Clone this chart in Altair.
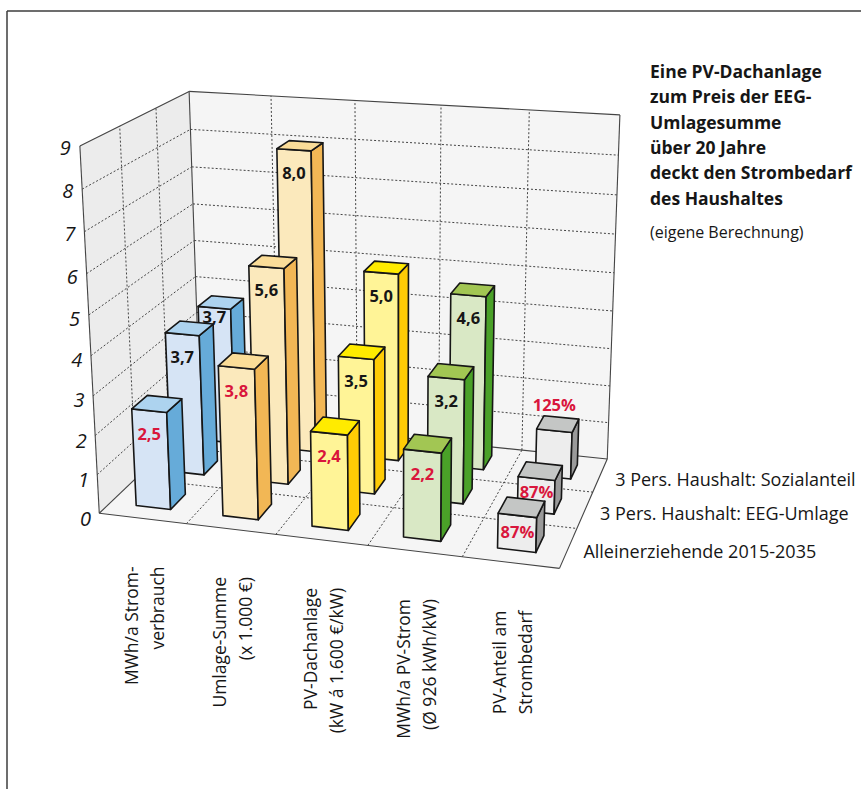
import altair as alt
import numpy as np
import pandas as pd

# ---- chart content ----
categories = [
    ["MWh/a Strom-", "verbrauch"],
    ["Umlage-Summe", "(x 1.000 €)"],
    ["PV-Dachanlage", "(kW á 1.600 €/kW)"],
    ["MWh/a PV-Strom", "(Ø 926 kWh/kW)"],
    ["PV-Anteil am", "Strombedarf"],
]
series_names = [
    "Alleinerziehende 2015-2035",
    "3 Pers. Haushalt: EEG-Umlage",
    "3 Pers. Haushalt: Sozialanteil",
]
alleinerziehende = [2.5, 3.8, 2.4, 2.2, 0.87]
eeg_umlage = [3.7, 5.6, 3.5, 3.2, 0.87]
sozialanteil = [3.7, 8.0, 5.0, 4.6, 1.25]
y_ticks = list(range(10))
title_lines = [
    "Eine PV-Dachanlage",
    "zum Preis der EEG-",
    "Umlagesumme",
    "über 20 Jahre",
    "deckt den Strombedarf",
    "des Haushaltes",
]
source_note = "(eigene Berechnung)"

# ---- styling ----
FONT = "Open Sans"
RED = "#d9163c"
INK = "#161616"
face_colors = [
    {"front": "#d6e4f5", "side": "#66abd9", "top": "#add3ef"},
    {"front": "#fbe9bc", "side": "#f2b755", "top": "#fbdd98"},
    {"front": "#fff497", "side": "#ffcb05", "top": "#ffeb00"},
    {"front": "#d9e8c5", "side": "#4aa128", "top": "#a2c653"},
    {"front": "#ededed", "side": "#9a9a9a", "top": "#c4c6c5"},
]

# ---- camera: 3D box (x: category, y: value, z: series) onto the page ----
camera_anchors = [
    ((0, 0, 0), (98.0, 512.0)),
    ((5, 0, 0), (560.0, 569.0)),
    ((5, 0, 3), (606.7, 458.3)),
    ((0, 0, 3), (201.5, 418.0)),
    ((0, 9, 0), (80.7, 146.7)),
    ((0, 9, 3), (188.3, 90.7)),
    ((5, 9, 3), (620.0, 115.0)),
]


def solve_camera(anchors):
    rows = []
    for (x, y, z), (u, v) in anchors:
        rows.append([x, y, z, 1, 0, 0, 0, 0, -u * x, -u * y, -u * z, -u])
        rows.append([0, 0, 0, 0, x, y, z, 1, -v * x, -v * y, -v * z, -v])
    return np.linalg.svd(np.array(rows, float))[2][-1].reshape(3, 4)


CAMERA = solve_camera(camera_anchors)


def project(x, y, z):
    u, v, w = CAMERA @ np.array([x, y, z, 1.0])
    return float(u / w), float(v / w)


def polygon(corners, fill):
    ring = [list(project(*c)) for c in corners]
    ring.append(ring[0])
    return {
        "type": "Feature",
        "geometry": {"type": "Polygon", "coordinates": [ring]},
        "properties": {"fill": fill},
    }


# ---- walls and floor ----
wall_faces = [
    polygon([(0, 0, 0), (0, 9, 0), (0, 9, 3), (0, 0, 3)], "#ececec"),
    polygon([(0, 0, 3), (0, 9, 3), (5, 9, 3), (5, 0, 3)], "#f5f5f5"),
    polygon([(0, 0, 0), (5, 0, 0), (5, 0, 3), (0, 0, 3)], "#f5f5f5"),
]


def segment(a, b):
    (x, y), (x2, y2) = project(*a), project(*b)
    return {"x": x, "y": y, "x2": x2, "y2": y2}


grid_rows = []
for v in y_ticks[1:-1]:
    grid_rows.append(segment((0, v, 0), (0, v, 3)))
    grid_rows.append(segment((0, v, 3), (5, v, 3)))
for c in range(1, 5):
    grid_rows.append(segment((c, 0, 3), (c, 9, 3)))
    grid_rows.append(segment((c, 0, 0), (c, 0, 3)))
for r in range(1, 3):
    grid_rows.append(segment((0, 0, r), (0, 9, r)))
    grid_rows.append(segment((0, 0, r), (5, 0, r)))

edge_rows = [
    segment((0, 0, 0), (5, 0, 0)),
    segment((5, 0, 0), (5, 0, 3)),
    segment((0, 0, 0), (0, 0, 3)),
    segment((0, 0, 3), (5, 0, 3)),
    segment((0, 0, 0), (0, 9, 0)),
    segment((0, 0, 3), (0, 9, 3)),
    segment((5, 0, 3), (5, 9, 3)),
    segment((0, 9, 0), (0, 9, 3)),
    segment((0, 9, 3), (5, 9, 3)),
]

# ---- bars, painted back to front ----
BAR_X = (0.30, 0.70)
BAR_Z = (0.30, 0.73)
LABEL_DROP = 24
# value labels that sit somewhere else than the usual spot below the bar's top edge
label_drop_overrides = {(2, 0): 10, (0, 4): 18, (1, 4): 14, (2, 4): -25}

series_values = [alleinerziehende, eeg_umlage, sozialanteil]
bar_faces = []
value_labels = []
for r in (2, 1, 0):
    for c, value in enumerate(series_values[r]):
        x0, x1 = c + BAR_X[0], c + BAR_X[1]
        z0, z1 = r + BAR_Z[0], r + BAR_Z[1]
        col = face_colors[c]
        bar_faces.append(polygon([(x0, 0, z0), (x1, 0, z0), (x1, value, z0), (x0, value, z0)], col["front"]))
        bar_faces.append(polygon([(x1, 0, z0), (x1, 0, z1), (x1, value, z1), (x1, value, z0)], col["side"]))
        bar_faces.append(polygon([(x0, value, z0), (x1, value, z0), (x1, value, z1), (x0, value, z1)], col["top"]))

        px, py = project(c + 0.5, value, z0)
        text = f"{round(value * 100)}%" if c == 4 else f"{value:.1f}".replace(".", ",")
        value_labels.append({
            "x": px,
            "y": py + label_drop_overrides.get((r, c), LABEL_DROP),
            "text": text,
            "color": RED if (r == 0 or c == 4) else INK,
        })

# ---- text tables ----
tick_labels = []
for v in y_ticks:
    px, py = project(0, v, -0.25)
    tick_labels.append({"x": px - 4, "y": py - 2.5, "text": str(v)})

category_labels = []
for c, lines in enumerate(categories):
    px, py = project(c + 0.5, 0, 0)
    for i, line in enumerate(lines):
        category_labels.append({"x": px + (-10 if i == 0 else 16), "y": py + 48, "text": line})

series_labels = []
for r, name in enumerate(series_names):
    px, py = project(5, 0, r + 0.5)
    series_labels.append({"x": px + 15, "y": py + 5.5, "text": name})

heading = [{"x": 650, "y": 73 + 25.3 * i, "text": t} for i, t in enumerate(title_lines)]
note = [{"x": 650, "y": 233, "text": source_note}]
frame = [
    {"x": 7, "y": 11, "x2": 861, "y2": 11},
    {"x": 7, "y": 11, "x2": 7, "y2": 789},
]

# ---- chart ----
X = alt.X("x:Q", scale=alt.Scale(domain=[0, 862], range=[0, 862]), axis=None)
Y = alt.Y("y:Q", scale=alt.Scale(domain=[0, 789], range=[0, 789]), axis=None)
PAGE = dict(type="identity", scale=1, translate=[0, 0])


def shapes(features, **mark):
    return (
        alt.Chart(alt.Data(values=features))
        .mark_geoshape(**mark)
        .encode(fill=alt.Fill("properties.fill:N", scale=None))
        .project(**PAGE)
    )


def rules(rows, **mark):
    return alt.Chart(pd.DataFrame(rows)).mark_rule(**mark).encode(x=X, y=Y, x2="x2:Q", y2="y2:Q")


def texts(rows, **mark):
    return alt.Chart(pd.DataFrame(rows)).mark_text(font=FONT, **mark).encode(x=X, y=Y, text="text:N")


value_text = (
    alt.Chart(pd.DataFrame(value_labels))
    .mark_text(font=FONT, fontSize=16.5, fontWeight="bold", align="center", baseline="middle")
    .encode(x=X, y=Y, text="text:N", color=alt.Color("color:N", scale=None))
)

chart = alt.layer(
    rules(frame, color="#3c3c3c", strokeWidth=1.5),
    shapes(wall_faces, strokeWidth=0),
    rules(grid_rows, color="#444444", strokeWidth=1, strokeDash=[2, 2]),
    rules(edge_rows, color="#444444", strokeWidth=1.1),
    shapes(bar_faces, stroke="#161616", strokeWidth=1.6, strokeJoin="round"),
    value_text,
    texts(tick_labels, fontSize=20, fontStyle="italic", align="center", baseline="middle", color=INK),
    texts(category_labels, fontSize=17.5, angle=270, align="right", baseline="middle", color=INK),
    texts(series_labels, fontSize=18, align="left", baseline="middle", color=INK),
    texts(heading, fontSize=17.5, fontWeight="bold", align="left", baseline="middle", color=INK),
    texts(note, fontSize=16, align="left", baseline="middle", color=INK),
).properties(
    width=862,
    height=789,
    padding=0,
    autosize=alt.AutoSizeParams(type="none"),
    background="white",
).configure_view(stroke=None)

chart.save("out.html", embed_options={"renderer": "svg", "actions": False})
